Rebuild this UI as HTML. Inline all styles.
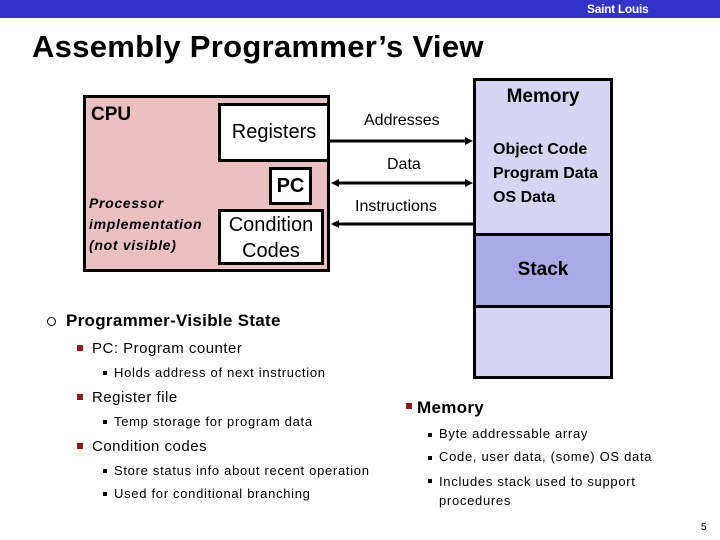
<!DOCTYPE html>
<html><head><meta charset="utf-8"><style>
*{margin:0;padding:0;box-sizing:border-box}
body{width:720px;height:540px;background:#fff;position:relative;overflow:hidden;font-family:"Liberation Sans",sans-serif;color:#000}
div{position:absolute}
.b{font-weight:bold}
.sq{width:6px;height:6px;background:#8b1a1a}
.sm{width:4px;height:4px;background:#000}
.s13{font-size:13px;letter-spacing:0.7px}
.s15{font-size:15px;letter-spacing:0.5px}
</style></head><body>
<div style="left:0;top:0;width:720px;height:18px;background:#3333c8"></div>
<div style="left:587px;top:2px;font-size:12px;color:#fff;font-weight:bold;letter-spacing:-0.3px">Saint Louis</div>
<div class="b" style="left:32px;top:29px;font-size:31px;letter-spacing:0.3px">Assembly Programmer’s View</div>

<div style="left:83px;top:95px;width:247px;height:177px;background:#ebc0c0;border:3px solid #000"></div>
<div class="b" style="left:91px;top:104px;font-size:19px">CPU</div>
<div style="left:89px;top:193px;font-size:14px;font-style:italic;font-weight:bold;line-height:21px;letter-spacing:0.7px">Processor<br>implementation<br>(not visible)</div>
<div style="left:218px;top:103px;width:112px;height:59px;background:#fff;border:3px solid #000;font-size:20px;text-align:center;padding-top:15px">Registers</div>
<div class="b" style="left:269px;top:167px;width:43px;height:38px;background:#fff;border:3px solid #000;font-size:20px;text-align:center;padding-top:5px">PC</div>
<div style="left:218px;top:209px;width:106px;height:56px;background:#fff;border:3px solid #000;font-size:20px;text-align:center;line-height:26px">Condition<br>Codes</div>

<svg style="position:absolute;left:0;top:0" width="720" height="540">
<g stroke="#000" stroke-width="3">
<line x1="330" y1="141" x2="468" y2="141"/>
<line x1="337" y1="183" x2="468" y2="183"/>
<line x1="337" y1="224" x2="474" y2="224"/>
</g>
<g fill="#000">
<polygon points="473,141 465,137 465,145"/>
<polygon points="473,183 465,179 465,187"/>
<polygon points="331,183 339,179 339,187"/>
<polygon points="331,224 339,220 339,228"/>
</g>
</svg>
<div style="left:364px;top:112px;font-size:16px">Addresses</div>
<div style="left:387px;top:156px;font-size:16px">Data</div>
<div style="left:355px;top:198px;font-size:16px">Instructions</div>

<div style="left:473px;top:78px;width:140px;height:301px;background:#d6d6f4;border:3px solid #000"></div>
<div style="left:473px;top:233px;width:140px;height:75px;background:#aaaae6;border:3px solid #000"></div>
<div class="b" style="left:473px;top:86px;width:140px;text-align:center;font-size:19px">Memory</div>
<div class="b" style="left:493px;top:138px;font-size:16px;line-height:24px">Object Code<br>Program Data<br>OS Data</div>
<div class="b" style="left:473px;top:259px;width:140px;text-align:center;font-size:19px">Stack</div>

<div style="left:47px;top:317px;width:9px;height:9px;border:1.5px solid #000;border-radius:50%"></div>
<div class="b" style="left:66px;top:311px;font-size:17px;letter-spacing:0.3px">Programmer-Visible State</div>
<div class="sq" style="left:77px;top:345px"></div>
<div class="s15" style="left:92px;top:340px">PC: Program counter</div>
<div class="sm" style="left:103px;top:371px"></div>
<div class="s13" style="left:114px;top:365px">Holds address of next instruction</div>
<div class="sq" style="left:77px;top:394px"></div>
<div class="s15" style="left:92px;top:389px">Register file</div>
<div class="sm" style="left:103px;top:420px"></div>
<div class="s13" style="left:114px;top:414px">Temp storage for program data</div>
<div class="sq" style="left:77px;top:443px"></div>
<div class="s15" style="left:92px;top:438px">Condition codes</div>
<div class="sm" style="left:103px;top:469px"></div>
<div class="s13" style="left:114px;top:463px">Store status info about recent operation</div>
<div class="sm" style="left:103px;top:492px"></div>
<div class="s13" style="left:114px;top:486px">Used for conditional branching</div>

<div class="sq" style="left:406px;top:403px"></div>
<div class="b" style="left:417px;top:398px;font-size:17px;letter-spacing:0.3px">Memory</div>
<div class="sm" style="left:428px;top:433px"></div>
<div class="s13" style="left:439px;top:426px">Byte addressable array</div>
<div class="sm" style="left:428px;top:456px"></div>
<div class="s13" style="left:439px;top:449px">Code, user data, (some) OS data</div>
<div class="sm" style="left:428px;top:479px"></div>
<div class="s13" style="left:439px;top:472px;line-height:19px">Includes stack used to support<br>procedures</div>
<div style="left:701px;top:522px;font-size:10px">5</div>
</body></html>
